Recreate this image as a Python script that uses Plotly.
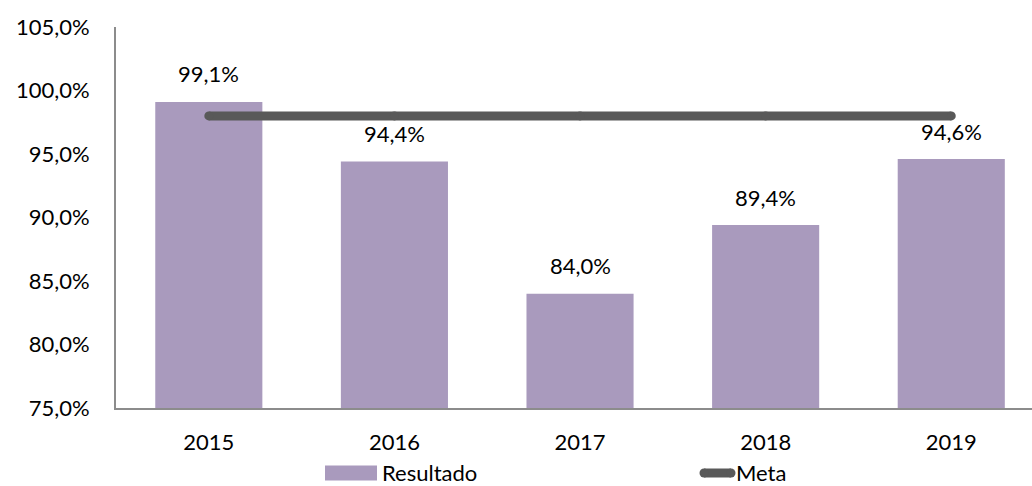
import plotly.graph_objects as go

# Data
years = ["2015", "2016", "2017", "2018", "2019"]
resultado = [99.1, 94.4, 84.0, 89.4, 94.6]
meta = [98.0, 98.0, 98.0, 98.0, 98.0]
y_ticks = [75, 80, 85, 90, 95, 100, 105]
y_tick_labels = ["75,0%", "80,0%", "85,0%", "90,0%", "95,0%", "100,0%", "105,0%"]

W, H = 1032, 486
BAR_COLOR = "#A99ABD"
META_COLOR = "#595959"
AXIS_COLOR = "#8C8C8C"
FONT = "Lato"
FS = 22
LEG_Y = 473  # vertical centre of the legend row, in pixels from the top


def px(x):
    return x / W


def py(y):
    return (H - y) / H


fig = go.Figure()

fig.add_trace(go.Bar(
    x=years, y=resultado, name="Resultado",
    marker=dict(color=BAR_COLOR, line=dict(width=0)),
    width=0.577, showlegend=False,
))

fig.add_trace(go.Scatter(
    x=years, y=meta, name="Meta", mode="lines+markers",
    line=dict(color=META_COLOR, width=9),
    marker=dict(color=META_COLOR, size=9, line=dict(width=0)),
    showlegend=False,
))

# value labels above the bars (category index positions)
for i, v in enumerate(resultado):
    fig.add_annotation(
        x=i, y=v, xref="x", yref="y",
        text=f"{v:.1f}%".replace(".", ","),
        showarrow=False, yanchor="middle", yshift=28,
        font=dict(family=FONT, size=FS, color="#000000"),
    )

# legend drawn below the axis
shapes = [
    dict(type="rect", xref="paper", yref="paper",
         x0=px(325), x1=px(377), y0=py(LEG_Y + 7.5), y1=py(LEG_Y - 7.5),
         fillcolor=BAR_COLOR, line=dict(width=0)),
    dict(type="line", xref="paper", yref="paper",
         x0=px(704), x1=px(731), y0=py(LEG_Y), y1=py(LEG_Y),
         line=dict(color=META_COLOR, width=9)),
    dict(type="circle", xref="paper", yref="paper",
         x0=px(699.5), x1=px(708.5), y0=py(LEG_Y + 4.5), y1=py(LEG_Y - 4.5),
         fillcolor=META_COLOR, line=dict(width=0)),
    dict(type="circle", xref="paper", yref="paper",
         x0=px(726.5), x1=px(735.5), y0=py(LEG_Y + 4.5), y1=py(LEG_Y - 4.5),
         fillcolor=META_COLOR, line=dict(width=0)),
]
fig.add_annotation(
    x=px(380), y=py(LEG_Y - 1), xref="paper", yref="paper",
    text="Resultado", showarrow=False, xanchor="left", yanchor="middle",
    font=dict(family=FONT, size=FS, color="#000000"),
)
fig.add_annotation(
    x=px(734), y=py(LEG_Y - 1), xref="paper", yref="paper",
    text="Meta", showarrow=False, xanchor="left", yanchor="middle",
    font=dict(family=FONT, size=FS, color="#000000"),
)

fig.update_layout(
    template="none",
    width=W, height=H,
    margin=dict(l=0, r=0, t=0, b=0, pad=0),
    plot_bgcolor="white", paper_bgcolor="white",
    showlegend=False,
    font=dict(family=FONT, size=FS, color="#000000"),
    shapes=shapes,
    xaxis=dict(
        type="category",
        domain=[116 / W, 1],
        range=[-0.5, 4.435],
        automargin=False,
        showline=True, linecolor=AXIS_COLOR, linewidth=2,
        showgrid=False, zeroline=False, ticks="", ticklabelstandoff=14,
        tickfont=dict(family=FONT, size=FS, color="#000000"),
    ),
    yaxis=dict(
        domain=[py(408), py(27)],
        range=[75, 105],
        tickvals=y_ticks, ticktext=y_tick_labels,
        automargin=False,
        showline=True, linecolor=AXIS_COLOR, linewidth=2,
        showgrid=False, zeroline=False, ticks="", ticklabelstandoff=20,
        tickfont=dict(family=FONT, size=FS, color="#000000"),
    ),
)

fig.write_html("out.html")
